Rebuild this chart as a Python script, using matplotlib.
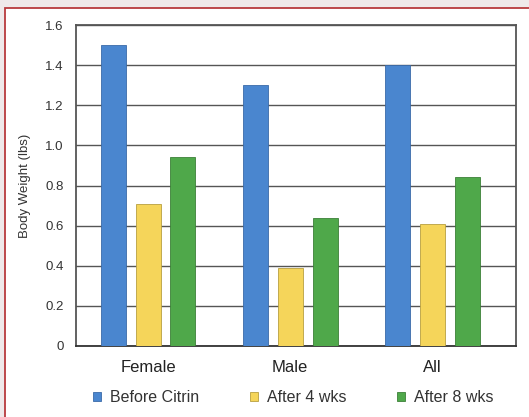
import matplotlib
matplotlib.use("Agg")
import matplotlib.pyplot as plt
from matplotlib.patches import Rectangle
import numpy as np

plt.rcParams['font.family'] = ['Liberation Sans', 'DejaVu Sans']

categories = ["Female", "Male", "All"]
series_names = ["Before Citrin", "After 4 wks", "After 8 wks"]
before_citrin = [1.50, 1.30, 1.40]
after_4_wks = [0.71, 0.39, 0.61]
after_8_wks = [0.94, 0.64, 0.84]
y_ticks = [0, 0.2, 0.4, 0.6, 0.8, 1.0, 1.2, 1.4, 1.6]
y_tick_labels = ["0", "0.2", "0.4", "0.6", "0.8", "1.0", "1.2", "1.4", "1.6"]

colors = ["#4a86cf", "#f5d55a", "#4fa84a"]
edge_colors = ["#3a6aa8", "#b8a040", "#3c8038"]

W, H = 529, 417
fig = plt.figure(figsize=(W / 100, H / 100), dpi=100)
fig.patch.set_facecolor("white")

# page background strip and red frame
fig.add_artist(Rectangle((0, 0), 1, 1, transform=fig.transFigure,
                         facecolor="#efe9ea", edgecolor="none", zorder=-3))
fig.add_artist(Rectangle((5 / W, -0.01), 1.0, 1 - 8 / H + 0.01, transform=fig.transFigure,
                         facecolor="white", edgecolor="#b83a3e", linewidth=1.3, zorder=-2))

left, right, top, bottom = 76, 516, 25, 346
ax = fig.add_axes([left / W, 1 - bottom / H, (right - left) / W, (bottom - top) / H])

x = np.arange(len(categories))
width = 0.176
step = 0.246
for i, (vals, name) in enumerate(zip([before_citrin, after_4_wks, after_8_wks], series_names)):
    ax.bar(x + (i - 1) * step, vals, width, color=colors[i], edgecolor=edge_colors[i],
           linewidth=0.6, label=name, zorder=3)

ax.set_xlim(-0.507, 2.59)
ax.set_ylim(0, 1.6)
ax.set_yticks(y_ticks)
ax.set_yticklabels(y_tick_labels, fontsize=9.5, color="#333333")
ax.set_xticks(x)
ax.set_xticklabels(categories, fontsize=12, color="#222222")
ax.tick_params(axis="both", length=0)
ax.tick_params(axis="y", pad=9)
ax.tick_params(axis="x", pad=10)
ax.yaxis.grid(True, color="#555555", linewidth=1.0, zorder=0)
ax.set_axisbelow(True)
for s in ax.spines.values():
    s.set_color("#555555")
    s.set_linewidth(1.3)
ax.spines["bottom"].set_color("#333333")

ax.set_ylabel("Body Weight (lbs)", fontsize=9.5, color="#333333", labelpad=10)

leg = ax.legend(loc="upper center", bbox_to_anchor=(0.494, -0.092), ncol=3, frameon=False,
                fontsize=11.5, handlelength=0.5, handleheight=0.5, handletextpad=0.55,
                columnspacing=3.2)
for t in leg.get_texts():
    t.set_color("#333333")

fig.savefig("out.png", dpi=100)
